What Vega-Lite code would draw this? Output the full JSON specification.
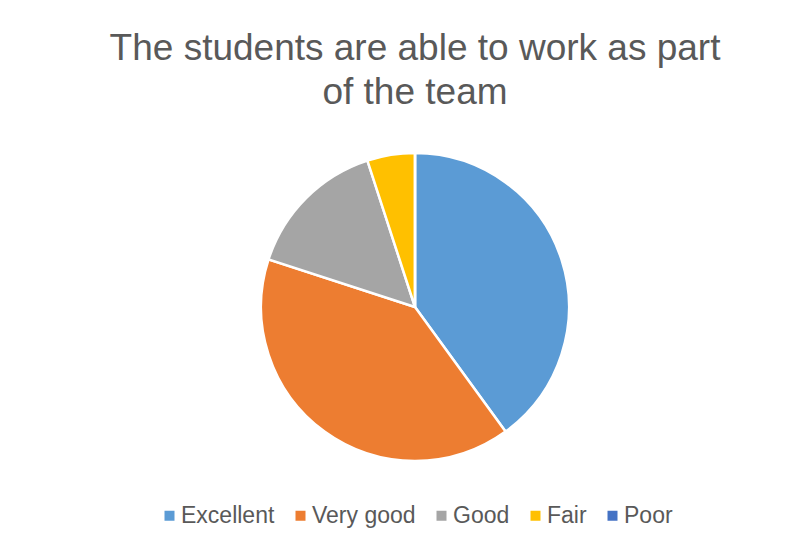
{
  "$schema": "https://vega.github.io/schema/vega-lite/v6.json",
  "autosize": {"type": "none"},
  "padding": {"left": 20, "top": 130, "right": 0, "bottom": 65},
  "width": 790,
  "height": 354,
  "background": "white",
  "config": {"view": {"stroke": null}},
  "title": {
    "text": ["The students are able to work as part", "of the team"],
    "anchor": "middle",
    "fontSize": 37,
    "font": "Liberation Sans",
    "fontWeight": "normal",
    "color": "#595959",
    "lineHeight": 44,
    "offset": 18
  },
  "data": {
    "values": [
      {"rating": "Excellent", "count": 8, "order": 1},
      {"rating": "Very good", "count": 8, "order": 2},
      {"rating": "Good", "count": 3, "order": 3},
      {"rating": "Fair", "count": 1, "order": 4},
      {"rating": "Poor", "count": 0, "order": 5}
    ]
  },
  "mark": {"type": "arc", "outerRadius": 154, "stroke": "white", "strokeWidth": 2.5},
  "encoding": {
    "theta": {"field": "count", "type": "quantitative", "stack": true},
    "order": {"field": "order", "type": "quantitative"},
    "color": {
      "field": "rating",
      "type": "nominal",
      "scale": {
        "domain": ["Excellent", "Very good", "Good", "Fair", "Poor"],
        "range": ["#5B9BD5", "#ED7D31", "#A5A5A5", "#FFC000", "#4472C4"]
      },
      "legend": {
        "title": null,
        "orient": "none",
        "legendX": 138,
        "legendY": 374,
        "direction": "horizontal",
        "symbolType": "square",
        "symbolSize": 100,
        "symbolStrokeWidth": 0,
        "labelFont": "Liberation Sans",
        "labelFontSize": 23,
        "labelColor": "#595959",
        "columnPadding": 14,
        "labelOffset": 0
      }
    }
  }
}
